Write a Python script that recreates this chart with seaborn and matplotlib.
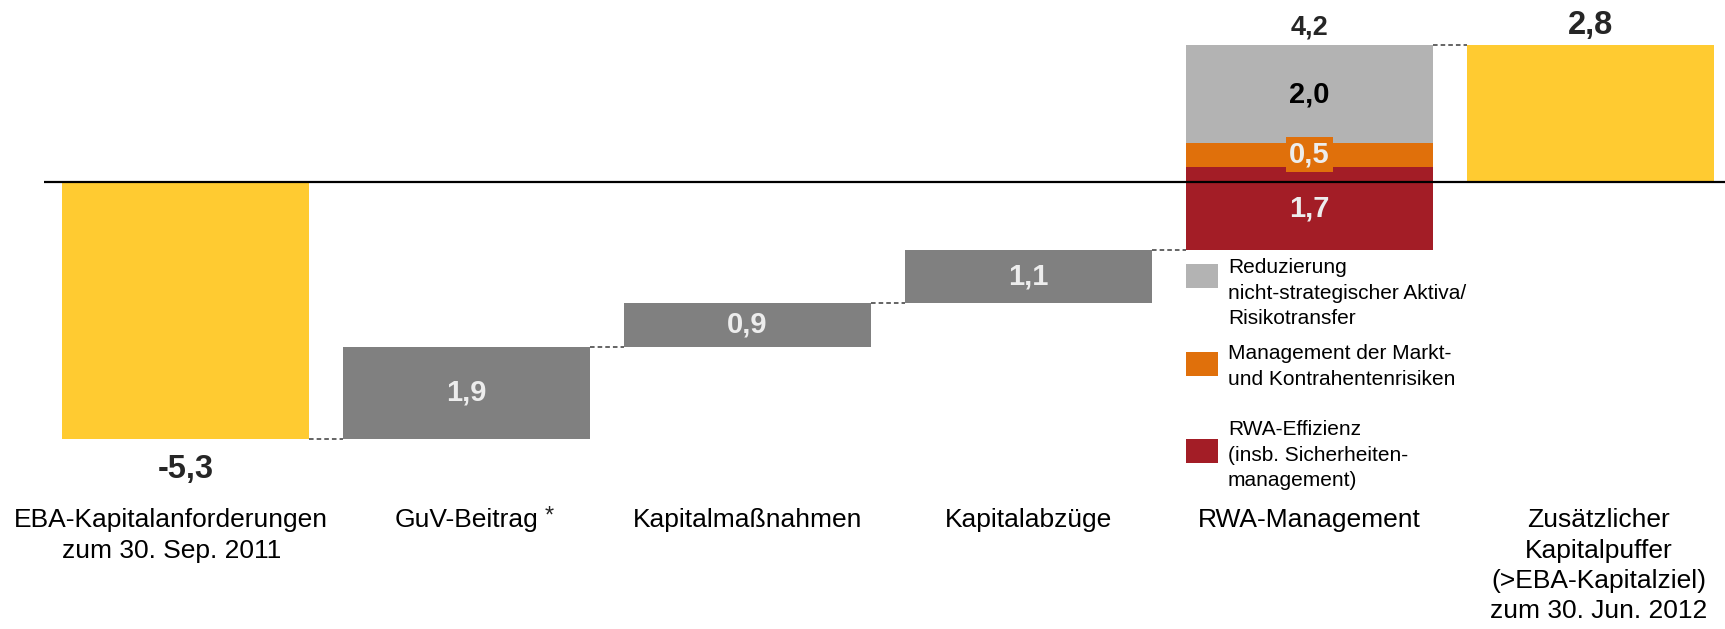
import numpy as np
import pandas as pd
import matplotlib
matplotlib.use("Agg")
import matplotlib.pyplot as plt
from matplotlib.patches import Rectangle
from matplotlib.transforms import ScaledTranslation
import seaborn as sns

# --- data -------------------------------------------------------------
categories = [
    "EBA-Kapitalanforderungen\nzum 30. Sep. 2011",
    "GuV-Beitrag",
    "Kapitalmaßnahmen",
    "Kapitalabzüge",
    "RWA-Management",
    "Zusätzlicher\nKapitalpuffer\n(>EBA-Kapitalziel)\nzum 30. Jun. 2012",
]
# waterfall steps in drawing order: (category index, component, value)
step_category = [0, 1, 2, 3, 4, 4, 4, 5]
step_component = ["start", "step", "step", "step",
                  "rwa_eff", "rwa_markt", "rwa_abbau", "end"]
step_value = [-5.3, 1.9, 0.9, 1.1, 1.7, 0.5, 2.0, 2.8]

legend_labels = [
    "Reduzierung\nnicht-strategischer Aktiva/\nRisikotransfer",
    "Management der Markt-\nund Kontrahentenrisiken",
    "RWA-Effizienz\n(insb. Sicherheiten-\nmanagement)",
]
legend_components = ["rwa_abbau", "rwa_markt", "rwa_eff"]

colors = {
    "start": "#FFCB31",
    "end": "#FFCB31",
    "step": "#808080",
    "rwa_eff": "#A31D26",
    "rwa_markt": "#E0700B",
    "rwa_abbau": "#B3B3B3",
}
label_colors = {
    "start": "black", "end": "black", "step": "#EDEDED",
    "rwa_eff": "#EDEDED", "rwa_markt": "#EDEDED", "rwa_abbau": "black",
}

df = pd.DataFrame({"cat": [categories[i] for i in step_category],
                   "idx": step_category,
                   "comp": step_component,
                   "value": step_value})
# totals start at zero, every other step starts where the previous one ended
is_total = df["comp"].isin(["start", "end"])
running = df["value"].where(~df["comp"].eq("end"), 0).cumsum()
df["bottom"] = np.where(is_total, 0.0, running.shift(1).fillna(0))
df["top"] = df["bottom"] + df["value"]

# --- figure -----------------------------------------------------------
sns.set_style("white")
plt.rcParams["font.family"] = ["Liberation Sans", "DejaVu Sans"]

W, H = 1725, 629
fig = plt.figure(figsize=(W / 100, H / 100), dpi=100)
px_per_unit = 48.6
zero_px = 181.5
ax_bottom_px = 500
ax = fig.add_axes([44 / W, 1 - ax_bottom_px / H, 1 - 44 / W, ax_bottom_px / H])

bar_w = 0.88
for _, r in df.iterrows():
    sns.barplot(x=[r["cat"]], y=[r["value"]], order=categories,
                bottom=r["bottom"], color=colors[r["comp"]], saturation=1,
                width=bar_w, errorbar=None, linewidth=0, ax=ax)

ax.set_xlim(-0.503, 5.479)
ax.set_ylim((zero_px - ax_bottom_px) / px_per_unit, zero_px / px_per_unit)

# zero line
ax.axhline(0, color="black", lw=1.6, zorder=5)

# dashed connectors between consecutive bars
for i in range(len(categories) - 1):
    end_level = df[df["idx"] == i]["top"].iloc[-1]
    ax.hlines(end_level, i + bar_w / 2, i + 1 - bar_w / 2, colors="#3a3a3a",
              linestyles=(0, (3, 2)), lw=1.1, zorder=4)


def fmt(v):
    return f"{v:.1f}".replace(".", ",")


# value labels inside bars
for _, r in df.iterrows():
    if r["comp"] in ("start", "end"):
        continue
    mid = r["bottom"] + r["value"] / 2
    kw = {}
    if r["comp"] == "rwa_markt":
        kw["bbox"] = dict(boxstyle="square,pad=0.12", fc=colors["rwa_markt"], ec="none")
    ax.text(r["idx"], mid, fmt(r["value"]), ha="center", va="center",
            fontsize=21, fontweight="bold", color=label_colors[r["comp"]],
            zorder=6, **kw)

# totals outside bars
start = df[df["comp"] == "start"].iloc[0]
ax.annotate(fmt(start["value"]), (start["idx"], start["top"]),
            xytext=(0, -22), textcoords="offset points", ha="center",
            va="center", fontsize=23.5, fontweight="bold", annotation_clip=False)
end = df[df["comp"] == "end"].iloc[0]
ax.annotate(fmt(end["value"]), (end["idx"], end["top"]),
            xytext=(0, 14), textcoords="offset points", ha="center",
            va="center", fontsize=23.5, fontweight="bold", annotation_clip=False)
rwa = df[df["idx"] == 4]
ax.annotate(fmt(rwa["value"].sum()), (4, rwa["top"].max()),
            xytext=(0, 13), textcoords="offset points", ha="center",
            va="center", fontsize=19.5, fontweight="bold", annotation_clip=False)

# category axis
ax.set_xticks(range(len(categories)))
ax.set_xticklabels(categories, fontsize=19, linespacing=1.33, color="black")
ax.tick_params(axis="x", length=0, pad=6)
ax.set_yticks([])
ax.set_xlabel("")
ax.set_ylabel("")
for s in ax.spines.values():
    s.set_visible(False)
# outer labels sit slightly off their bar centres
label_shift_px = {0: -14, 5: 8}
for i, lab in enumerate(ax.get_xticklabels()):
    if i in label_shift_px:
        lab.set_transform(lab.get_transform()
                          + ScaledTranslation(label_shift_px[i] / 100, 0,
                                              fig.dpi_scale_trans))
# footnote marker next to "GuV-Beitrag"
ax.annotate("*", (1, 0), xycoords=("data", "axes fraction"),
            xytext=(60, -4), textcoords="offset points", ha="center",
            va="top", fontsize=17)


# legend for the RWA components
def fx(x):
    return x / W


def fy(y):
    return 1 - y / H


sq_tops = [264, 352, 439]
txt_tops = [258, 344, 420]
for comp, lab, st, tt in zip(legend_components, legend_labels, sq_tops, txt_tops):
    fig.patches.append(Rectangle((fx(1186), fy(st + 24)), 32 / W, 24 / H,
                                 transform=fig.transFigure, fc=colors[comp],
                                 ec="none"))
    fig.text(fx(1228), fy(tt), lab, ha="left", va="top", fontsize=15,
             linespacing=1.45, color="black")

fig.savefig("out.png", dpi=100)
